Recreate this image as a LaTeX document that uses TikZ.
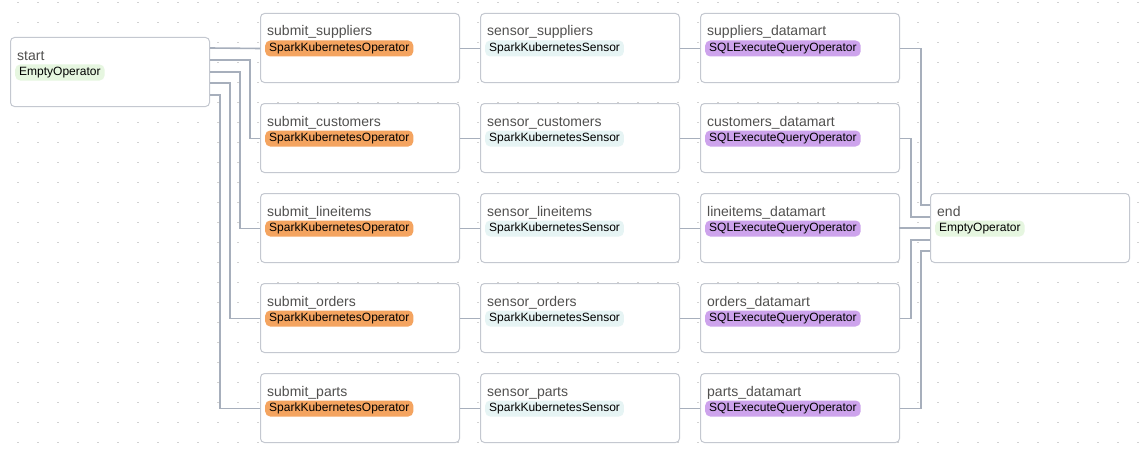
\documentclass[tikz,border=0pt]{standalone}
\usepackage{fontspec}
\setmainfont{Liberation Sans}
\usetikzlibrary{positioning}
\definecolor{boxgray}{HTML}{C4C8D0}
\definecolor{edgegray}{HTML}{A7AFBC}
\definecolor{titlegray}{HTML}{51504F}
\definecolor{sparkop}{HTML}{F4A460}
\definecolor{sensorop}{HTML}{E6F4F4}
\definecolor{sqlop}{HTML}{CDA3EC}
\definecolor{emptyop}{HTML}{E6F6E0}
\definecolor{griddot}{HTML}{D2D2D2}

\tikzset{
  taskbox/.style={draw=boxgray, fill=white, line width=1pt, rounded corners=4pt,
    minimum width=199pt, minimum height=69pt, inner sep=0pt, anchor=north west},
  tasktitle/.style={anchor=west, inner sep=0pt, text=titlegray,
    text height=10pt, text depth=3pt, font=\fontsize{14}{16}\selectfont},
  opbadge/.style={anchor=west, rounded corners=5pt, inner xsep=4pt, inner ysep=2pt,
    text height=9pt, text depth=3pt, font=\fontsize{12}{14}\selectfont, fill=#1},
  edge/.style={draw=edgegray, line width=1.6pt},
}

% box, title, operator badge
\newcommand{\task}[5]{%
  \node[taskbox] (#1) at (#2) {};
  \node[tasktitle] (#1-t) at ([xshift=7pt,yshift=-19.5pt]#1.north west) {#3};
  \node[opbadge=#4] (#1-op) at ([xshift=5pt,yshift=-35.5pt]#1.north west) {#5};
}

\begin{document}
\begin{tikzpicture}[x=1pt, y=-1pt]
  \fill[white] (0,0) rectangle (1140,460);
  \useasboundingbox (0,0) rectangle (1140,460);

  % dotted grid
  \foreach \gx in {18,38,...,1138}
    \foreach \gy in {2,22,...,442}
      \fill[griddot] (\gx-1,\gy) rectangle ++(2,1);

  \task{start}{10,37}{start}{emptyop}{EmptyOperator}
  \task{end}{930,193}{end}{emptyop}{EmptyOperator}

  \foreach \t [count=\i] in {suppliers,customers,lineitems,orders,parts} {
    \pgfmathsetmacro\ty{13+90*(\i-1)}
    \task{sub-\t}{260,\ty}{submit\_\t}{sparkop}{SparkKubernetesOperator}
    \task{sen-\t}{480,\ty}{sensor\_\t}{sensorop}{SparkKubernetesSensor}
    \task{dm-\t}{700,\ty}{\t\_datamart}{sqlop}{SQLExecuteQueryOperator}
    \draw[edge] (sub-\t.east |- sub-\t-op) -- (sen-\t.west |- sub-\t-op);
    \draw[edge] (sen-\t.east |- sen-\t-op) -- (dm-\t.west |- sen-\t-op);
  }

  % fan out from start
  \draw[edge] ([yshift=-11pt]start.north east) -- (sub-suppliers.west |- sub-suppliers-op);
  \foreach \t/\dy/\dx in {customers/23/40, lineitems/35/30, orders/46/20, parts/58/10}
    \draw[edge] ([yshift=-\dy pt]start.north east) -- ++(\dx,0)
      |- (sub-\t.west |- sub-\t-op);

  % fan in to end
  \foreach \t/\dy/\dx in {suppliers/12/21, customers/24/11, lineitems/35/0, orders/47/11, parts/58/21}
    \draw[edge] (dm-\t.east |- dm-\t-op) -- ++(\dx,0)
      |- ([yshift=-\dy pt]end.north west);
\end{tikzpicture}
\end{document}
